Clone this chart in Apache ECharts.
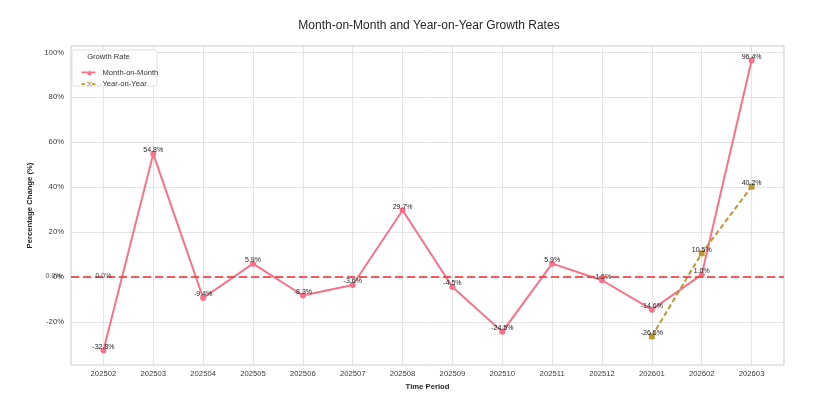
<!DOCTYPE html>
<html>
<head>
<meta charset="utf-8">
<script src="https://cdn.jsdelivr.net/npm/echarts@6/dist/echarts.min.js"></script>
<style>html,body{margin:0;padding:0;background:#fff}#c{width:831px;height:410px}</style>
</head>
<body>
<div id="c"></div>
<script>
const categories = ['202502','202503','202504','202505','202506','202507','202508','202509','202510','202511','202512','202601','202602','202603'];
const momValues = [-32.8, 54.8, -9.4, 5.9, -8.3, -3.6, 29.7, -4.5, -24.5, 5.9, -1.5, -14.6, 1.0, 96.4];
const yoyValues = [null, null, null, null, null, null, null, null, null, null, null, -26.5, 10.5, 40.2];
const extraLabelX = [-1, 0];
const extraLabelY = [0, 0];
const yTicks = [-20, 0, 20, 40, 60, 80, 100];

const FONT = '"Liberation Sans", Arial, sans-serif';
const chart = echarts.init(document.getElementById('c'), null, {renderer: 'canvas'});

const idx = categories.map((_, i) => i);
const momData = momValues.map((v, i) => [i, v]);
const yoyData = yoyValues.map((v, i) => [i, v]);
const extraData = extraLabelX.map((x, i) => [x, extraLabelY[i]]);

const labelCfg = {
  show: true, position: 'top', distance: -3,
  fontSize: 7, color: '#222', fontFamily: FONT,
  formatter: p => (p.value[1]).toFixed(1) + '%'
};

const momIcon = 'path://M0,5.6h28v3.4h-28z M11.5,12.5L16,2.5L20.5,12.5z';
const yoyIcon = 'path://M0,5.6h7v3.4h-7z M21,5.6h7v3.4h-7z M11,3.6L12.4,2.2L21,10.8L19.6,12.2z M19.6,2.2L21,3.6L12.4,12.2L11,10.8z';

chart.setOption({
  backgroundColor: '#fff',
  animation: false,
  grid: {left: 71, right: 47, top: 46, bottom: 45, show: true, borderColor: '#cccccc', borderWidth: 1},
  xAxis: {
    type: 'value', min: -0.65, max: 13.65,
    name: 'Time Period', nameLocation: 'middle', nameGap: 14,
    nameTextStyle: {fontSize: 7.7, fontWeight: 'bold', color: '#262626', fontFamily: FONT},
    axisLine: {show: false},
    axisTick: {show: false, customValues: idx},
    axisLabel: {customValues: idx, fontSize: 7.7, color: '#3a3a3a', fontFamily: FONT, margin: 5,
      formatter: v => categories[Math.round(v)]},
    splitLine: {show: true, lineStyle: {color: '#dddddd', width: 0.8}}
  },
  yAxis: {
    type: 'value', min: -39.26, max: 102.86,
    name: 'Percentage Change (%)', nameLocation: 'middle', nameGap: 34, nameRotate: 90,
    nameTextStyle: {fontSize: 7.7, fontWeight: 'bold', color: '#262626', fontFamily: FONT},
    axisLine: {show: false},
    axisTick: {show: false, customValues: yTicks},
    axisLabel: {customValues: yTicks, fontSize: 7.7, color: '#3a3a3a', fontFamily: FONT, margin: 7,
      formatter: v => v + '%'},
    splitLine: {show: true, lineStyle: {color: '#dddddd', width: 0.8}}
  },
  legend: {
    orient: 'vertical', left: 76.5, top: 62.5, z: 10,
    itemWidth: 14, itemHeight: 5, itemGap: 1.6,
    textStyle: {fontSize: 7.6, color: '#333', fontFamily: FONT, lineHeight: 10, padding: [0, 0, 0, 2]},
    data: [
      {name: 'Month-on-Month', icon: momIcon, itemStyle: {color: '#f77189'}},
      {name: 'Year-on-Year', icon: yoyIcon, itemStyle: {color: '#bb9832'}}
    ]
  },
  graphic: [
    {type: 'text', z: 10,
      style: {text: 'Month-on-Month and Year-on-Year Growth Rates', x: 429, y: 26, align: 'center', verticalAlign: 'middle',
        fontSize: 12, fill: '#262626', fontFamily: FONT}},
    {type: 'rect', z: 8, shape: {x: 72, y: 50, width: 85, height: 36, r: 2},
      style: {fill: '#ffffff', stroke: '#d8d8d8', lineWidth: 0.8}},
    {type: 'text', z: 9, style: {text: 'Growth Rate', x: 108.5, y: 56.5, align: 'center', verticalAlign: 'middle',
      fontSize: 7.6, fill: '#333', fontFamily: FONT}}
  ],
  series: [
    {
      name: 'Month-on-Month', type: 'line', data: momData,
      symbol: 'circle', symbolSize: 6, z: 3,
      lineStyle: {color: '#f77189', width: 2},
      itemStyle: {color: '#f77189'},
      label: labelCfg,
      markLine: {
        silent: true, symbol: 'none', label: {show: false},
        lineStyle: {color: '#f0494b', width: 2, type: [8, 4], opacity: 0.9},
        data: [{yAxis: 0}]
      }
    },
    {
      name: 'Year-on-Year', type: 'line', data: yoyData,
      symbol: 'rect', symbolSize: 6, z: 4,
      lineStyle: {color: '#bb9832', width: 2, type: [5, 3]},
      itemStyle: {color: '#bb9832'},
      label: labelCfg
    },
    {
      name: 'extra', type: 'scatter', data: extraData, symbolSize: 0, clip: false, z: 5,
      label: labelCfg
    }
  ]
});
</script>
</body>
</html>
